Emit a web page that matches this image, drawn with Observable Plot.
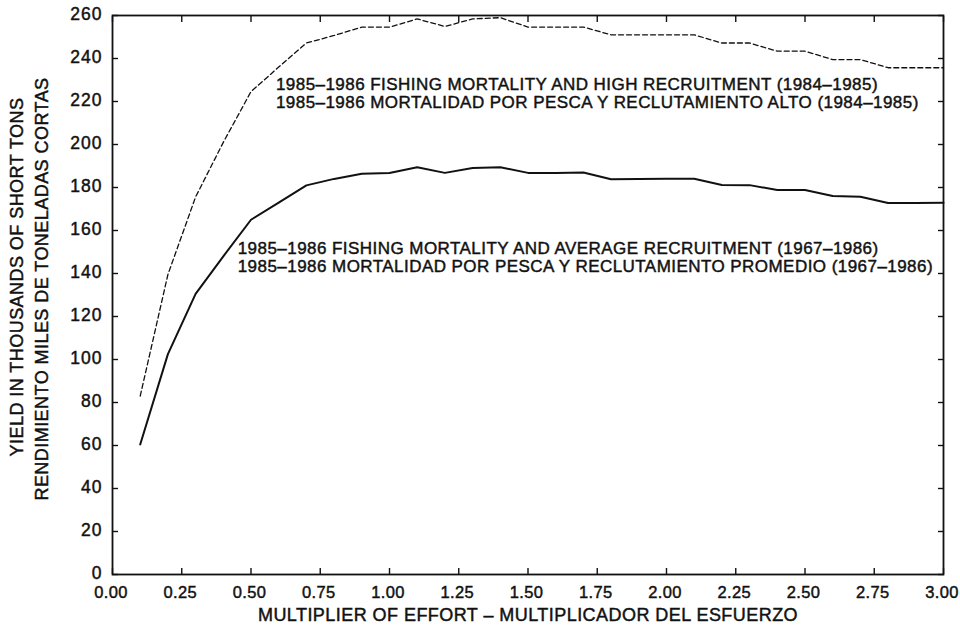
<!DOCTYPE html>
<html>
<head>
<meta charset="utf-8">
<script src="https://cdn.jsdelivr.net/npm/d3@7"></script>
<script src="https://cdn.jsdelivr.net/npm/@observablehq/plot@0.6"></script>
<style>
  body { margin: 0; background: #fff; }
  #chart svg text { letter-spacing: 0.45px; stroke: #111; stroke-width: 0.45px; paint-order: stroke; }
  #chart svg g[aria-label="x-axis tick label"] text { letter-spacing: 0.3px; }
  #chart svg g[aria-label="y-axis tick label"] text { letter-spacing: 1px; }
</style>
</head>
<body>
<div id="chart"></div>
<script>
// Multiplier of effort (x)
const effort = [0.1, 0.2, 0.3, 0.4, 0.5, 0.6, 0.7, 0.8, 0.9, 1.0,
                1.1, 1.2, 1.3, 1.4, 1.5, 1.6, 1.7, 1.8, 1.9, 2.0,
                2.1, 2.2, 2.3, 2.4, 2.5, 2.6, 2.7, 2.8, 2.9, 3.0];
// Yield, 1985-1986 fishing mortality and high recruitment (1984-1985) — dashed
const yieldHigh = [83, 139.5, 175.6, 201, 224.6, 236, 247.2, 250.7, 254.6, 254.6,
                   258.4, 254.9, 258.4, 259, 254.6, 254.6, 254.6, 251, 251, 251,
                   251, 247.2, 247.2, 243.4, 243.4, 239.5, 239.5, 235.7, 235.7, 235.7];
// Yield, 1985-1986 fishing mortality and average recruitment (1967-1986) — solid
const yieldAverage = [60.5, 102.5, 130.5, 148, 165, 173, 181, 184, 186.4, 186.7,
                      189.4, 186.8, 189.1, 189.4, 186.8, 186.8, 187, 183.8, 184, 184.1,
                      184.1, 181.2, 181.1, 178.8, 178.8, 176, 175.7, 172.8, 172.8, 172.9];

const xTicks = [0, 0.25, 0.5, 0.75, 1, 1.25, 1.5, 1.75, 2, 2.25, 2.5, 2.75, 3];
const yTicks = [0, 20, 40, 60, 80, 100, 120, 140, 160, 180, 200, 220, 240, 260];

const labelHigh = "1985–1986 FISHING MORTALITY AND HIGH RECRUITMENT (1984–1985)\n1985–1986 MORTALIDAD POR PESCA Y RECLUTAMIENTO ALTO (1984–1985)";
const labelAverage = "1985–1986 FISHING MORTALITY AND AVERAGE RECRUITMENT (1967–1986)\n1985–1986 MORTALIDAD POR PESCA Y RECLUTAMIENTO PROMEDIO (1967–1986)";
const xTitle = "MULTIPLIER OF EFFORT – MULTIPLICADOR DEL ESFUERZO";
const yTitle1 = "YIELD IN THOUSANDS OF SHORT TONS";
const yTitle2 = "RENDIMIENTO MILES DE TONELADAS CORTAS";

const high = effort.map((x, i) => ({x, y: yieldHigh[i]}));
const average = effort.map((x, i) => ({x, y: yieldAverage[i]}));

const ink = "#111";
const chart = Plot.plot({
  width: 960,
  height: 635,
  marginLeft: 112,
  marginRight: 17,
  marginTop: 15,
  marginBottom: 61,
  style: {fontFamily: "'Liberation Sans', Arial, Helvetica, sans-serif", color: ink, background: "#fff"},
  x: {domain: [0, 3]},
  y: {domain: [0, 260]},
  marks: [
    // inward ticks on all four sides
    Plot.axisX({anchor: "bottom", ticks: xTicks, tickSize: -6, fill: "none", label: null, strokeWidth: 1.4}),
    Plot.axisX({anchor: "top", ticks: xTicks, tickSize: -6, fill: "none", label: null, strokeWidth: 1.4}),
    Plot.axisY({anchor: "left", ticks: yTicks, tickSize: -6, fill: "none", label: null, strokeWidth: 1.4}),
    Plot.axisY({anchor: "right", ticks: yTicks, tickSize: -6, fill: "none", label: null, strokeWidth: 1.4}),
    // tick labels
    Plot.axisX({anchor: "bottom", ticks: xTicks, tickSize: 0, tickPadding: 12, dx: -1.5, tickFormat: d3.format(".2f"), label: null, fontSize: 16.5}),
    Plot.axisY({anchor: "left", ticks: yTicks, tickSize: 0, tickPadding: 10, dy: -1, tickFormat: d3.format("d"), label: null, fontSize: 17.5}),
    Plot.frame({stroke: ink, strokeWidth: 1.8}),
    // series
    Plot.line(high, {x: "x", y: "y", stroke: ink, strokeWidth: 1.3, strokeDasharray: "5,3"}),
    Plot.line(average, {x: "x", y: "y", stroke: ink, strokeWidth: 2}),
    // annotations
    Plot.text([labelHigh], {x: () => 0.59, y: () => 224, text: d => d, textAnchor: "start", lineAnchor: "middle", lineHeight: 1.08, fontSize: 17, fill: ink}),
    Plot.text([labelAverage], {x: () => 0.452, y: () => 147.6, text: d => d, textAnchor: "start", lineAnchor: "middle", lineHeight: 1.08, fontSize: 17, fill: ink}),
    // axis titles
    Plot.text([xTitle], {frameAnchor: "bottom", dy: 46, text: d => d, textAnchor: "middle", fontSize: 18, fill: ink}),
    Plot.text([yTitle1], {frameAnchor: "left", rotate: -90, dx: -95, dy: -18, text: d => d, textAnchor: "middle", fontSize: 18, fill: ink}),
    Plot.text([yTitle2], {frameAnchor: "left", rotate: -90, dx: -70, dy: -6, text: d => d, textAnchor: "middle", fontSize: 18, fill: ink})
  ]
});
document.getElementById("chart").appendChild(chart);
</script>
</body>
</html>
